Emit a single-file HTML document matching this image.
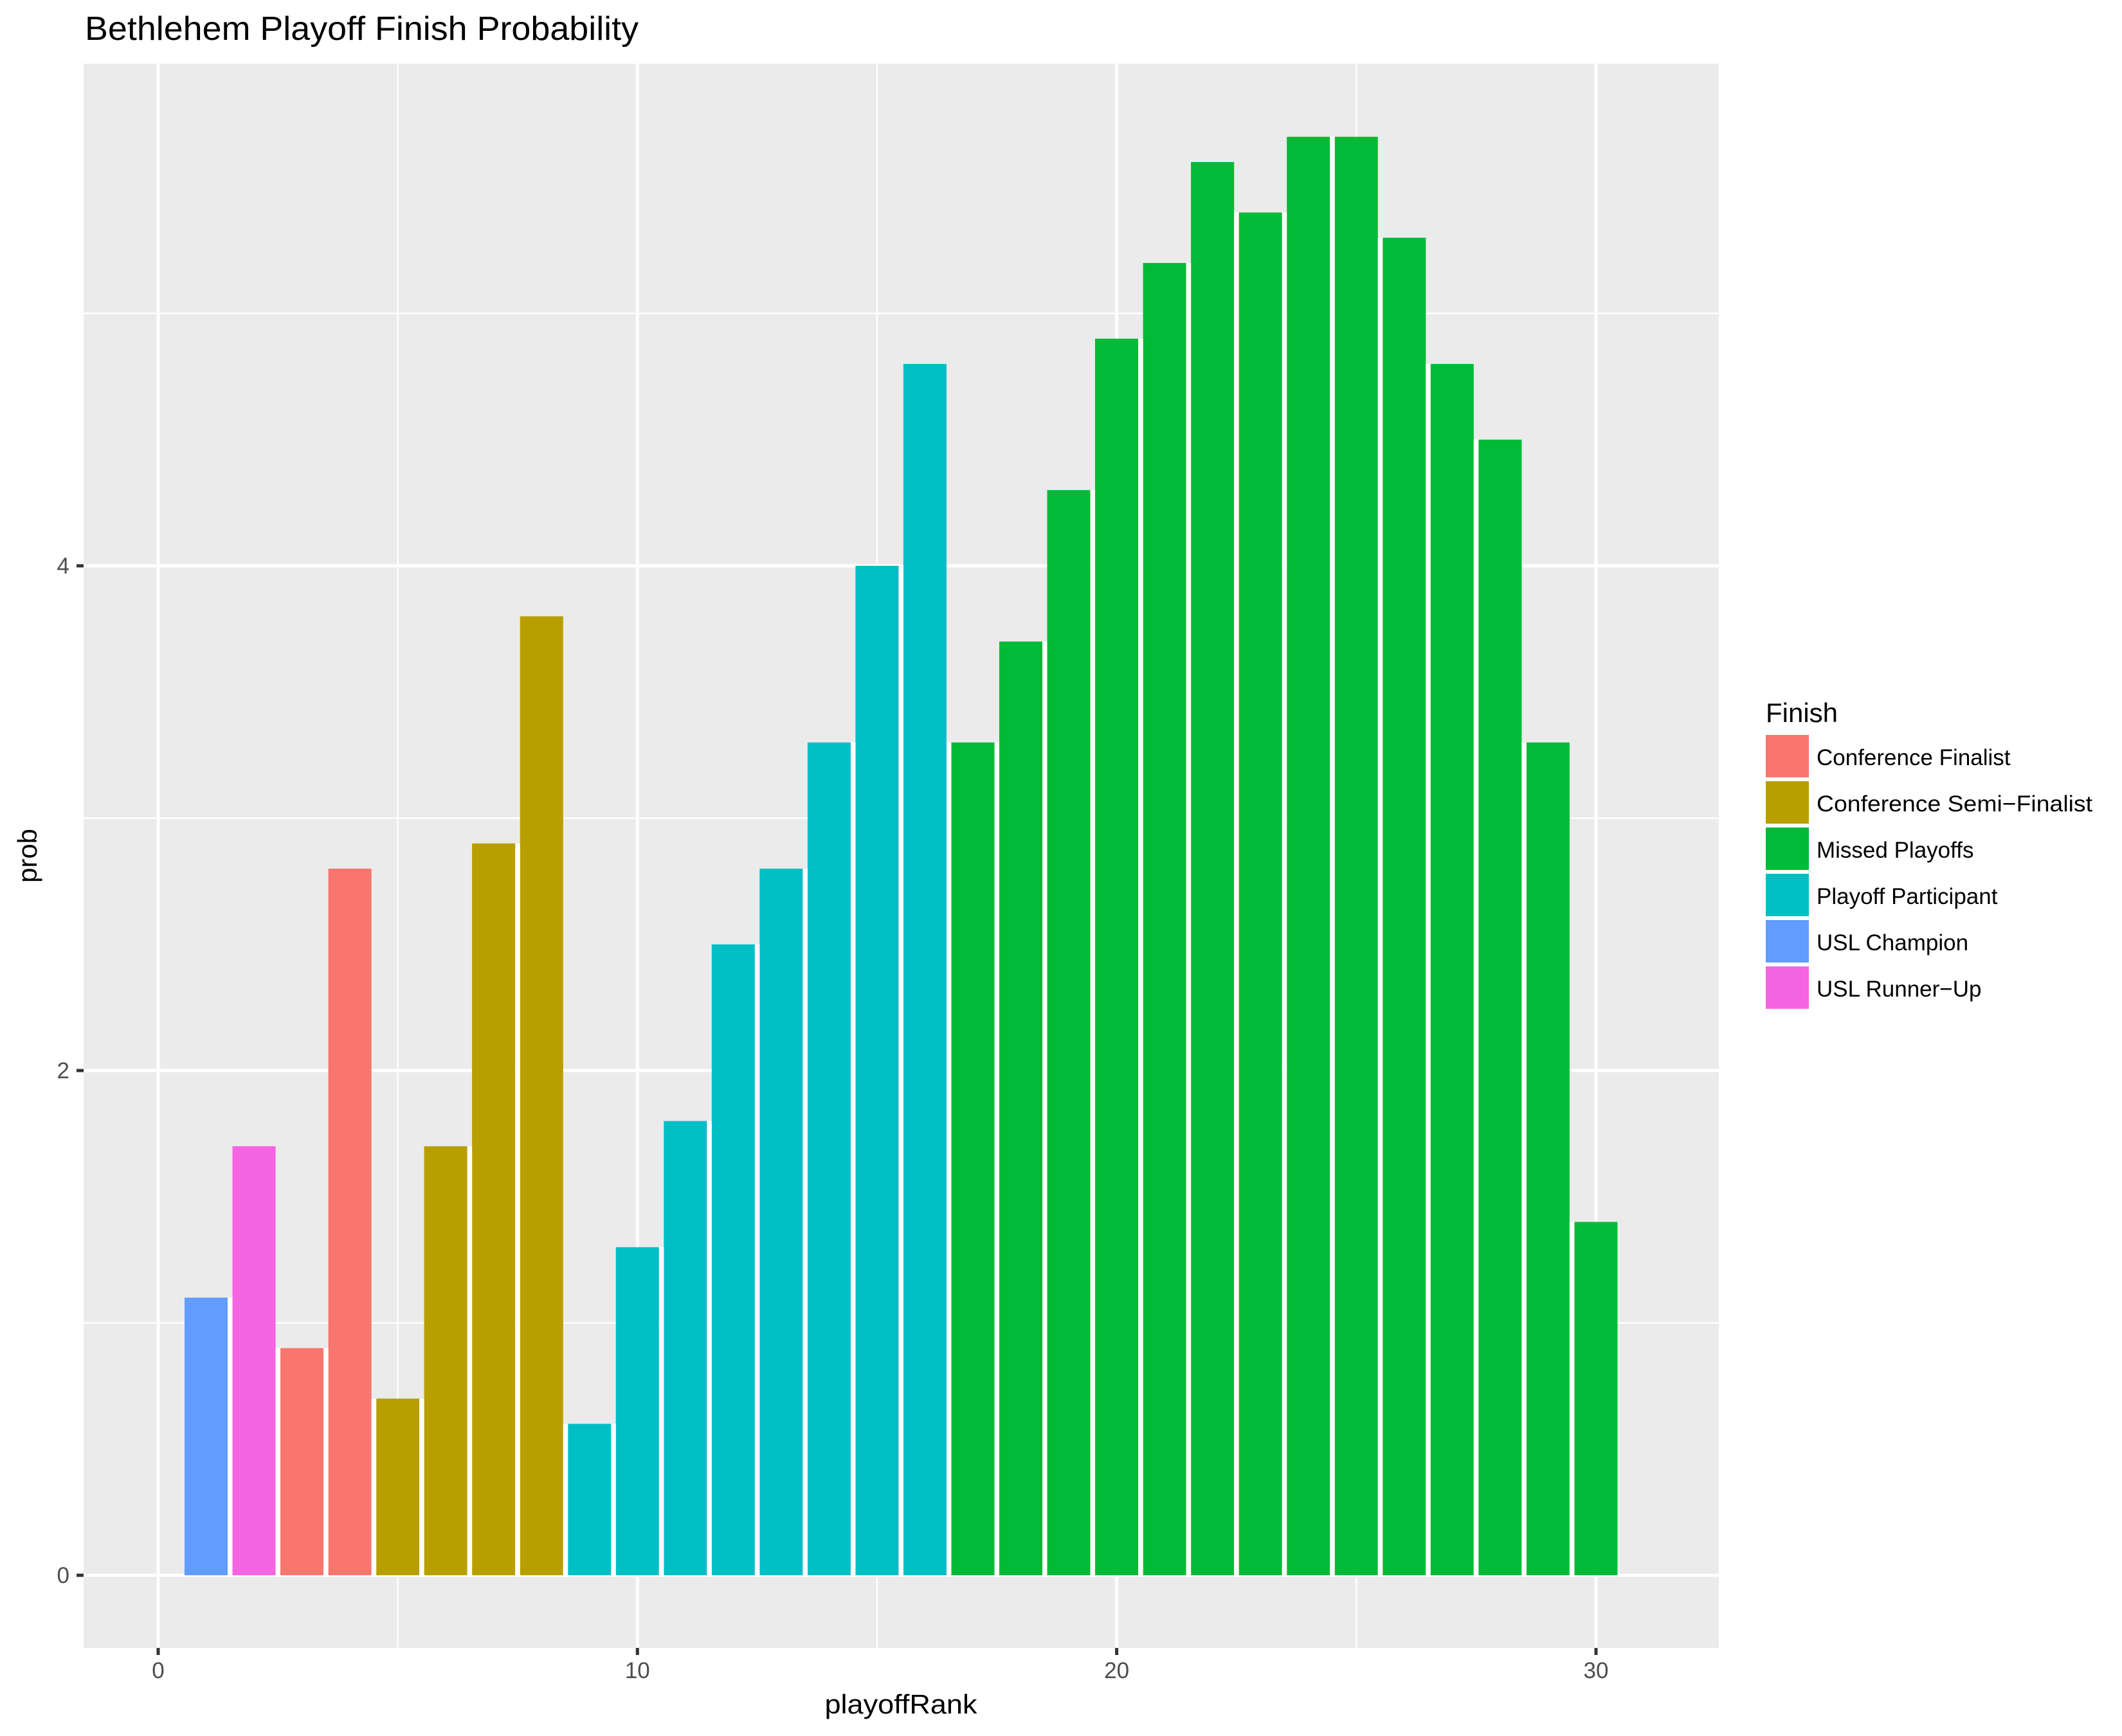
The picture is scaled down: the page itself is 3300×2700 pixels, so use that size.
<!DOCTYPE html>
<html><head><meta charset="utf-8"><style>html,body{margin:0;padding:0;background:#fff}svg{display:block}</style></head>
<body>
<svg xmlns="http://www.w3.org/2000/svg" width="3300" height="2700" viewBox="0 0 3300 2700" font-family="Liberation Sans, Arial, sans-serif">
<rect width="3300" height="2700" fill="#fff"/>
<text x="132" y="62" font-size="52" fill="#000" textLength="861" lengthAdjust="spacingAndGlyphs">Bethlehem Playoff Finish Probability</text>
<rect x="130" y="99" width="2543" height="2464" fill="#EBEBEB"/>
<g stroke="#fff" stroke-width="2.5">
<line x1="130" x2="2673" y1="2057.5" y2="2057.5"/>
<line x1="130" x2="2673" y1="1272.5" y2="1272.5"/>
<line x1="130" x2="2673" y1="487.5" y2="487.5"/>
<line y1="99" y2="2563" x1="618.7" x2="618.7"/>
<line y1="99" y2="2563" x1="1364" x2="1364"/>
<line y1="99" y2="2563" x1="2109.3" x2="2109.3"/>
</g>
<g stroke="#fff" stroke-width="5">
<line x1="130" x2="2673" y1="2450" y2="2450"/>
<line x1="130" x2="2673" y1="1665" y2="1665"/>
<line x1="130" x2="2673" y1="880" y2="880"/>
<line y1="99" y2="2563" x1="246" x2="246"/>
<line y1="99" y2="2563" x1="991.3" x2="991.3"/>
<line y1="99" y2="2563" x1="1736.6" x2="1736.6"/>
<line y1="99" y2="2563" x1="2482" x2="2482"/>
</g>
<g>
<rect x="287.0" y="2018.25" width="67.1" height="431.75" fill="#619CFF"/>
<rect x="361.5" y="1782.75" width="67.1" height="667.25" fill="#F564E3"/>
<rect x="436.0" y="2096.75" width="67.1" height="353.25" fill="#F8766D"/>
<rect x="510.6" y="1351" width="67.1" height="1099" fill="#F8766D"/>
<rect x="585.1" y="2175.25" width="67.1" height="274.75" fill="#B79F00"/>
<rect x="659.6" y="1782.75" width="67.1" height="667.25" fill="#B79F00"/>
<rect x="734.1" y="1311.75" width="67.1" height="1138.25" fill="#B79F00"/>
<rect x="808.7" y="958.5" width="67.1" height="1491.5" fill="#B79F00"/>
<rect x="883.2" y="2214.5" width="67.1" height="235.5" fill="#00BFC4"/>
<rect x="957.7" y="1939.75" width="67.1" height="510.25" fill="#00BFC4"/>
<rect x="1032.3" y="1743.5" width="67.1" height="706.5" fill="#00BFC4"/>
<rect x="1106.8" y="1468.75" width="67.1" height="981.25" fill="#00BFC4"/>
<rect x="1181.3" y="1351" width="67.1" height="1099" fill="#00BFC4"/>
<rect x="1255.9" y="1154.75" width="67.1" height="1295.25" fill="#00BFC4"/>
<rect x="1330.4" y="880" width="67.1" height="1570" fill="#00BFC4"/>
<rect x="1404.9" y="566" width="67.1" height="1884" fill="#00BFC4"/>
<rect x="1479.4" y="1154.75" width="67.1" height="1295.25" fill="#00BA38"/>
<rect x="1554.0" y="997.75" width="67.1" height="1452.25" fill="#00BA38"/>
<rect x="1628.5" y="762.25" width="67.1" height="1687.75" fill="#00BA38"/>
<rect x="1703.0" y="526.75" width="67.1" height="1923.25" fill="#00BA38"/>
<rect x="1777.6" y="409" width="67.1" height="2041" fill="#00BA38"/>
<rect x="1852.1" y="252" width="67.1" height="2198" fill="#00BA38"/>
<rect x="1926.6" y="330.5" width="67.1" height="2119.5" fill="#00BA38"/>
<rect x="2001.2" y="212.75" width="67.1" height="2237.25" fill="#00BA38"/>
<rect x="2075.7" y="212.75" width="67.1" height="2237.25" fill="#00BA38"/>
<rect x="2150.2" y="369.75" width="67.1" height="2080.25" fill="#00BA38"/>
<rect x="2224.7" y="566" width="67.1" height="1884" fill="#00BA38"/>
<rect x="2299.3" y="683.75" width="67.1" height="1766.25" fill="#00BA38"/>
<rect x="2373.8" y="1154.75" width="67.1" height="1295.25" fill="#00BA38"/>
<rect x="2448.3" y="1900.5" width="67.1" height="549.5" fill="#00BA38"/>
</g>
<g stroke="#fff" stroke-width="7.5">
<line x1="357.8" x2="357.8" y1="2018.25" y2="2450"/>
<line x1="432.3" x2="432.3" y1="2096.75" y2="2450"/>
<line x1="506.9" x2="506.9" y1="2096.75" y2="2450"/>
<line x1="581.4" x2="581.4" y1="2175.25" y2="2450"/>
<line x1="655.9" x2="655.9" y1="2175.25" y2="2450"/>
<line x1="730.4" x2="730.4" y1="1782.75" y2="2450"/>
<line x1="805.0" x2="805.0" y1="1311.75" y2="2450"/>
<line x1="879.5" x2="879.5" y1="2214.5" y2="2450"/>
<line x1="954.0" x2="954.0" y1="2214.5" y2="2450"/>
<line x1="1028.6" x2="1028.6" y1="1939.75" y2="2450"/>
<line x1="1103.1" x2="1103.1" y1="1743.5" y2="2450"/>
<line x1="1177.6" x2="1177.6" y1="1468.75" y2="2450"/>
<line x1="1252.2" x2="1252.2" y1="1351" y2="2450"/>
<line x1="1326.7" x2="1326.7" y1="1154.75" y2="2450"/>
<line x1="1401.2" x2="1401.2" y1="880" y2="2450"/>
<line x1="1475.7" x2="1475.7" y1="1154.75" y2="2450"/>
<line x1="1550.3" x2="1550.3" y1="1154.75" y2="2450"/>
<line x1="1624.8" x2="1624.8" y1="997.75" y2="2450"/>
<line x1="1699.3" x2="1699.3" y1="762.25" y2="2450"/>
<line x1="1773.9" x2="1773.9" y1="526.75" y2="2450"/>
<line x1="1848.4" x2="1848.4" y1="409" y2="2450"/>
<line x1="1922.9" x2="1922.9" y1="330.5" y2="2450"/>
<line x1="1997.5" x2="1997.5" y1="330.5" y2="2450"/>
<line x1="2072.0" x2="2072.0" y1="212.75" y2="2450"/>
<line x1="2146.5" x2="2146.5" y1="369.75" y2="2450"/>
<line x1="2221.0" x2="2221.0" y1="566" y2="2450"/>
<line x1="2295.6" x2="2295.6" y1="683.75" y2="2450"/>
<line x1="2370.1" x2="2370.1" y1="1154.75" y2="2450"/>
<line x1="2444.6" x2="2444.6" y1="1900.5" y2="2450"/>
</g>
<g stroke="#333" stroke-width="5">
<line x1="119" x2="130" y1="2450" y2="2450"/>
<line x1="119" x2="130" y1="1665" y2="1665"/>
<line x1="119" x2="130" y1="880" y2="880"/>
<line y1="2563" y2="2574" x1="246" x2="246"/>
<line y1="2563" y2="2574" x1="991.3" x2="991.3"/>
<line y1="2563" y2="2574" x1="1736.6" x2="1736.6"/>
<line y1="2563" y2="2574" x1="2482" x2="2482"/>
</g>
<g font-size="35" fill="#4D4D4D">
<text x="108" y="2462" text-anchor="end">0</text>
<text x="108" y="1677" text-anchor="end">2</text>
<text x="108" y="892" text-anchor="end">4</text>
<text x="246" y="2610" text-anchor="middle">0</text>
<text x="991.3" y="2610" text-anchor="middle">10</text>
<text x="1736.6" y="2610" text-anchor="middle">20</text>
<text x="2482" y="2610" text-anchor="middle">30</text>
</g>
<text x="1401" y="2665" font-size="42" text-anchor="middle" textLength="237" lengthAdjust="spacingAndGlyphs">playoffRank</text>
<text transform="translate(57,1331) rotate(-90)" font-size="42" text-anchor="middle">prob</text>
<text x="2746" y="1123" font-size="42">Finish</text>
<g font-size="35">
<rect x="2746" y="1143" width="67" height="66" fill="#F8766D"/><text x="2825" y="1190">Conference Finalist</text>
<rect x="2746" y="1215" width="67" height="66" fill="#B79F00"/><text x="2825" y="1262" textLength="429" lengthAdjust="spacingAndGlyphs">Conference Semi−Finalist</text>
<rect x="2746" y="1287" width="67" height="66" fill="#00BA38"/><text x="2825" y="1334">Missed Playoffs</text>
<rect x="2746" y="1359" width="67" height="66" fill="#00BFC4"/><text x="2825" y="1406">Playoff Participant</text>
<rect x="2746" y="1431" width="67" height="66" fill="#619CFF"/><text x="2825" y="1478">USL Champion</text>
<rect x="2746" y="1503" width="67" height="66" fill="#F564E3"/><text x="2825" y="1550">USL Runner−Up</text>
</g>
</svg>
</body></html>
